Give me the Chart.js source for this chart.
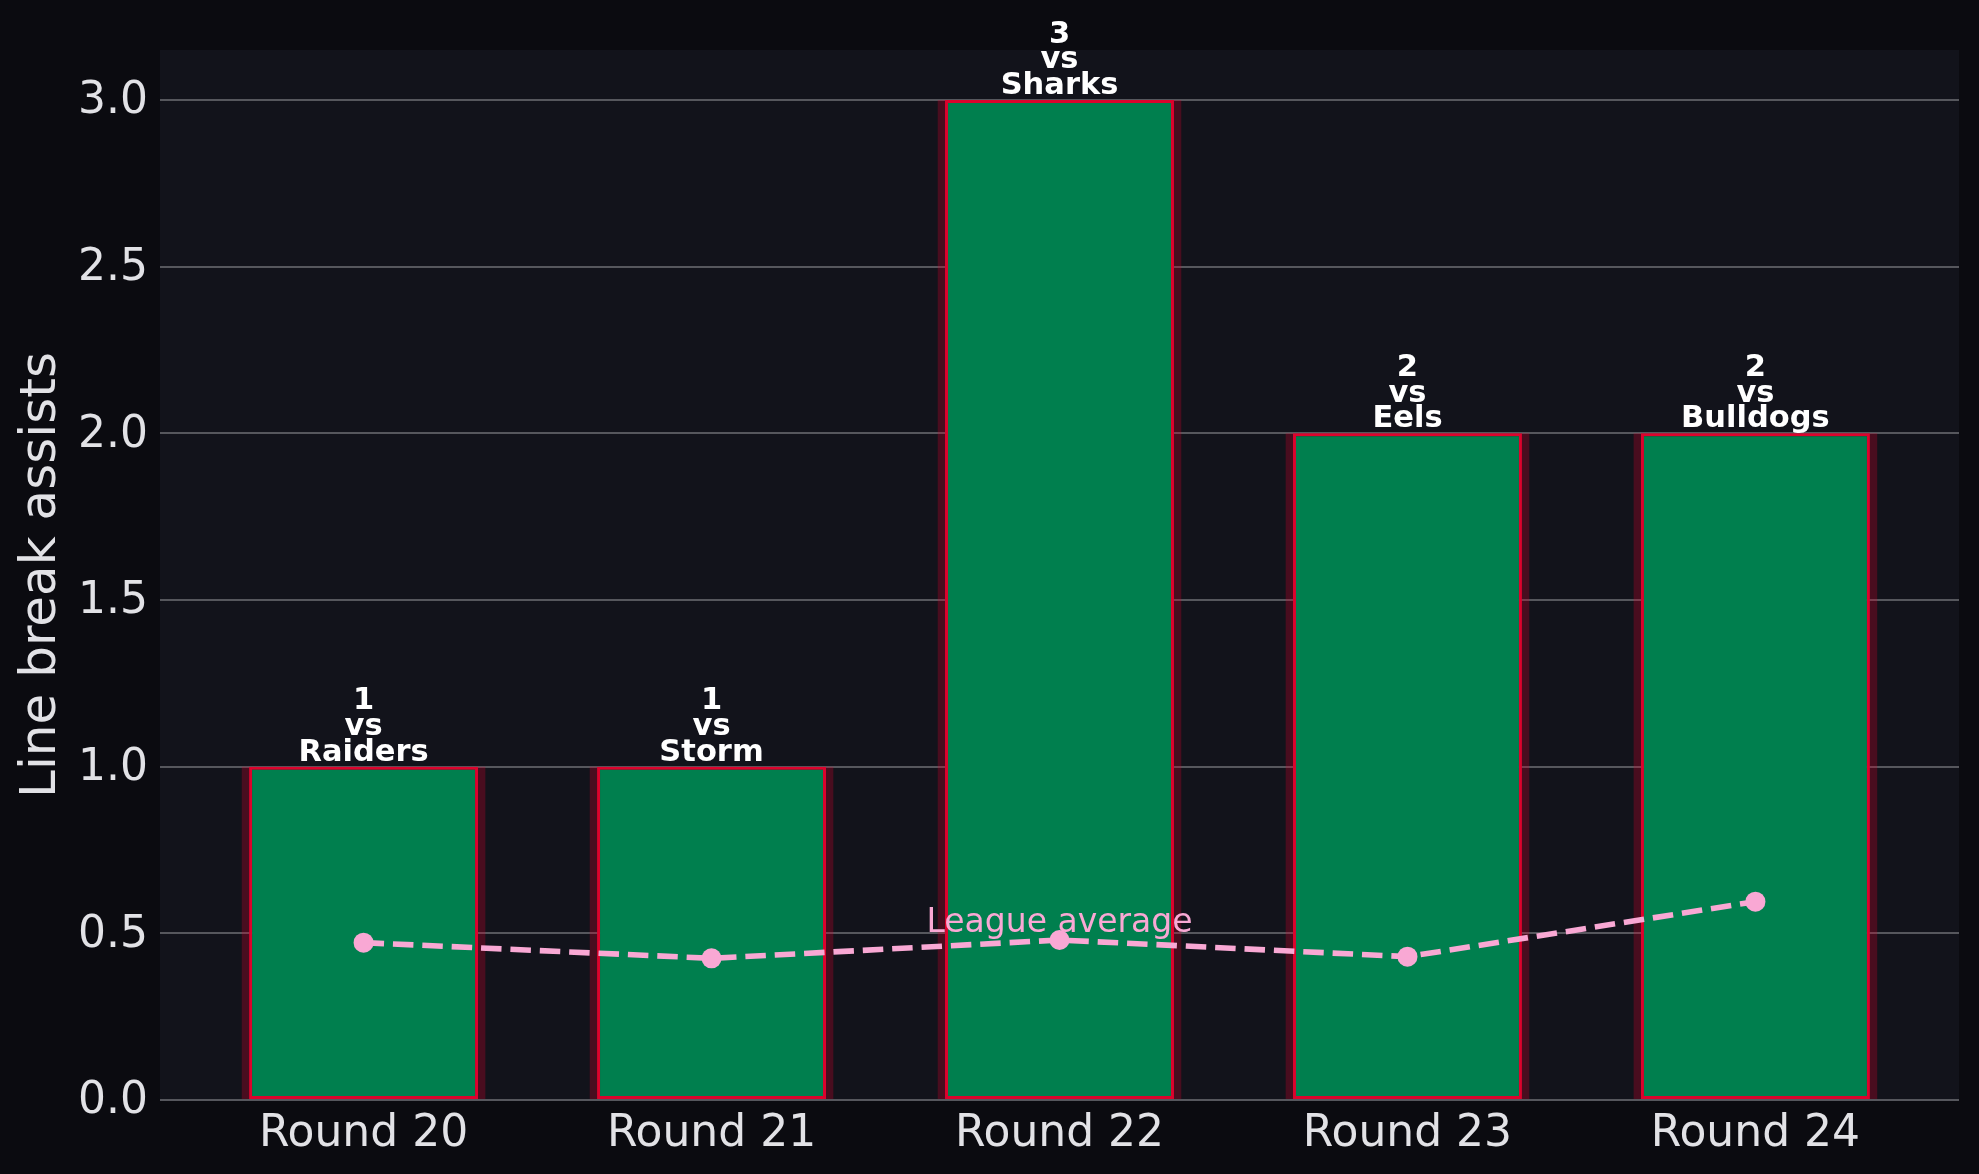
<!DOCTYPE html>
<html>
<head>
<meta charset="utf-8">
<script src="https://cdn.jsdelivr.net/npm/chart.js@4.4.1/dist/chart.umd.min.js"></script>
<style>
html,body{margin:0;padding:0;background:#0b0b10;overflow:hidden}
#wrap{width:1979px;height:1174px;position:relative}
</style>
</head>
<body>
<div id="wrap"><canvas id="c"></canvas></div>
<script>
// ---- data ----
const categories = ['Round 20', 'Round 21', 'Round 22', 'Round 23', 'Round 24'];
const opponents = ['Raiders', 'Storm', 'Sharks', 'Eels', 'Bulldogs'];
const lineBreakAssists = [1, 1, 3, 2, 2];
const leagueAverage = [0.472, 0.425, 0.48, 0.43, 0.595];
const yTickValues = [0, 0.5, 1.0, 1.5, 2.0, 2.5, 3.0];
const yAxisTitle = 'Line break assists';
const averageLabel = 'League average';

// ---- styles ----
const FIG_BG = '#0b0b10';
const PLOT_BG = '#12131b';
const BAR_FILL = '#007f4e';
const BAR_EDGE = '#dc032d';
const BAR_GLOW = 'rgba(214,0,42,0.28)';
const PINK = '#f9a8d4';
const GRID = '#56575d';
const TEXT = '#e2e2e6';
const FONT = "'DejaVu Sans', 'Liberation Sans', sans-serif";

const barPoints = lineBreakAssists.map((v, i) => ({x: i, y: v}));
const avgPoints = leagueAverage.map((v, i) => ({x: i, y: v}));

const bgPlugin = {
  id: 'bg',
  beforeDraw(chart) {
    const {ctx, chartArea: a} = chart;
    ctx.save();
    ctx.fillStyle = FIG_BG;
    ctx.fillRect(0, 0, chart.width, chart.height);
    ctx.fillStyle = PLOT_BG;
    ctx.fillRect(a.left, a.top, a.right - a.left, a.bottom - a.top);
    ctx.restore();
  }
};

const labelPlugin = {
  id: 'labels',
  afterDatasetsDraw(chart) {
    const ctx = chart.ctx;
    const barMeta = chart.getDatasetMeta(1);
    ctx.save();
    ctx.fillStyle = '#ffffff';
    ctx.font = "bold 30.5px " + FONT;
    ctx.textAlign = 'center';
    ctx.textBaseline = 'alphabetic';
    const ls = 25.7;
    barMeta.data.forEach((el, i) => {
      const lines = [String(lineBreakAssists[i]), 'vs', opponents[i]];
      const base = el.y - 6;
      lines.forEach((t, k) => {
        ctx.fillText(t, el.x, base - (lines.length - 1 - k) * ls);
      });
    });
    const lineMeta = chart.getDatasetMeta(0);
    const mid = lineMeta.data[2];
    ctx.font = "33px " + FONT;
    ctx.fillStyle = PINK;
    ctx.fillText(averageLabel, mid.x, mid.y - 8);
    ctx.restore();
  }
};

new Chart(document.getElementById('c'), {
  type: 'bar',
  data: {
    datasets: [
      {
        type: 'line',
        label: averageLabel,
        data: avgPoints,
        borderColor: PINK,
        backgroundColor: PINK,
        borderWidth: 5.6,
        borderDash: [20.5, 8.9],
        pointRadius: 10,
        pointBackgroundColor: PINK,
        pointBorderWidth: 0,
        pointHoverRadius: 10,
        tension: 0,
        fill: false,
        order: 0
      },
      {
        type: 'bar',
        label: 'Line break assists',
        data: barPoints,
        backgroundColor: BAR_FILL,
        borderColor: BAR_EDGE,
        borderWidth: 3,
        borderSkipped: false,
        grouped: false,
        categoryPercentage: 1,
        barPercentage: 0.658,
        order: 1
      },
      {
        type: 'bar',
        label: 'glow',
        data: barPoints,
        backgroundColor: BAR_GLOW,
        borderWidth: 0,
        grouped: false,
        categoryPercentage: 1,
        barPercentage: 0.70,
        order: 2
      }
    ]
  },
  options: {
    responsive: true,
    maintainAspectRatio: false,
    devicePixelRatio: 1,
    animation: false,
    layout: {padding: {top: 50, right: 20, left: 0, bottom: 0}},
    plugins: {legend: {display: false}, tooltip: {enabled: false}},
    scales: {
      x: {
        type: 'linear',
        min: -0.585,
        max: 4.585,
        offset: false,
        afterBuildTicks(scale) { scale.ticks = categories.map((c, i) => ({value: i})); },
        afterFit(scale) { scale.height = 74; },
        grid: {display: false, drawTicks: false, offset: false},
        border: {display: false},
        ticks: {
          color: TEXT,
          font: {family: FONT, size: 44},
          padding: 8,
          maxRotation: 0,
          autoSkip: false,
          callback: (v) => categories[v] !== undefined ? categories[v] : ''
        }
      },
      y: {
        type: 'linear',
        min: 0,
        max: 3.15,
        afterBuildTicks(scale) { scale.ticks = yTickValues.map(v => ({value: v})); },
        afterFit(scale) { scale.width = 160; },
        grid: {color: GRID, lineWidth: 2, drawTicks: false},
        border: {display: false},
        ticks: {
          color: TEXT,
          font: {family: FONT, size: 44},
          padding: 12,
          labelOffset: 2,
          callback: (v) => Number(v).toFixed(1)
        },
        title: {
          display: true,
          text: yAxisTitle,
          color: TEXT,
          font: {family: FONT, size: 50},
          padding: {top: 12, bottom: 0}
        }
      }
    }
  },
  plugins: [bgPlugin, labelPlugin]
});
</script>
</body>
</html>
